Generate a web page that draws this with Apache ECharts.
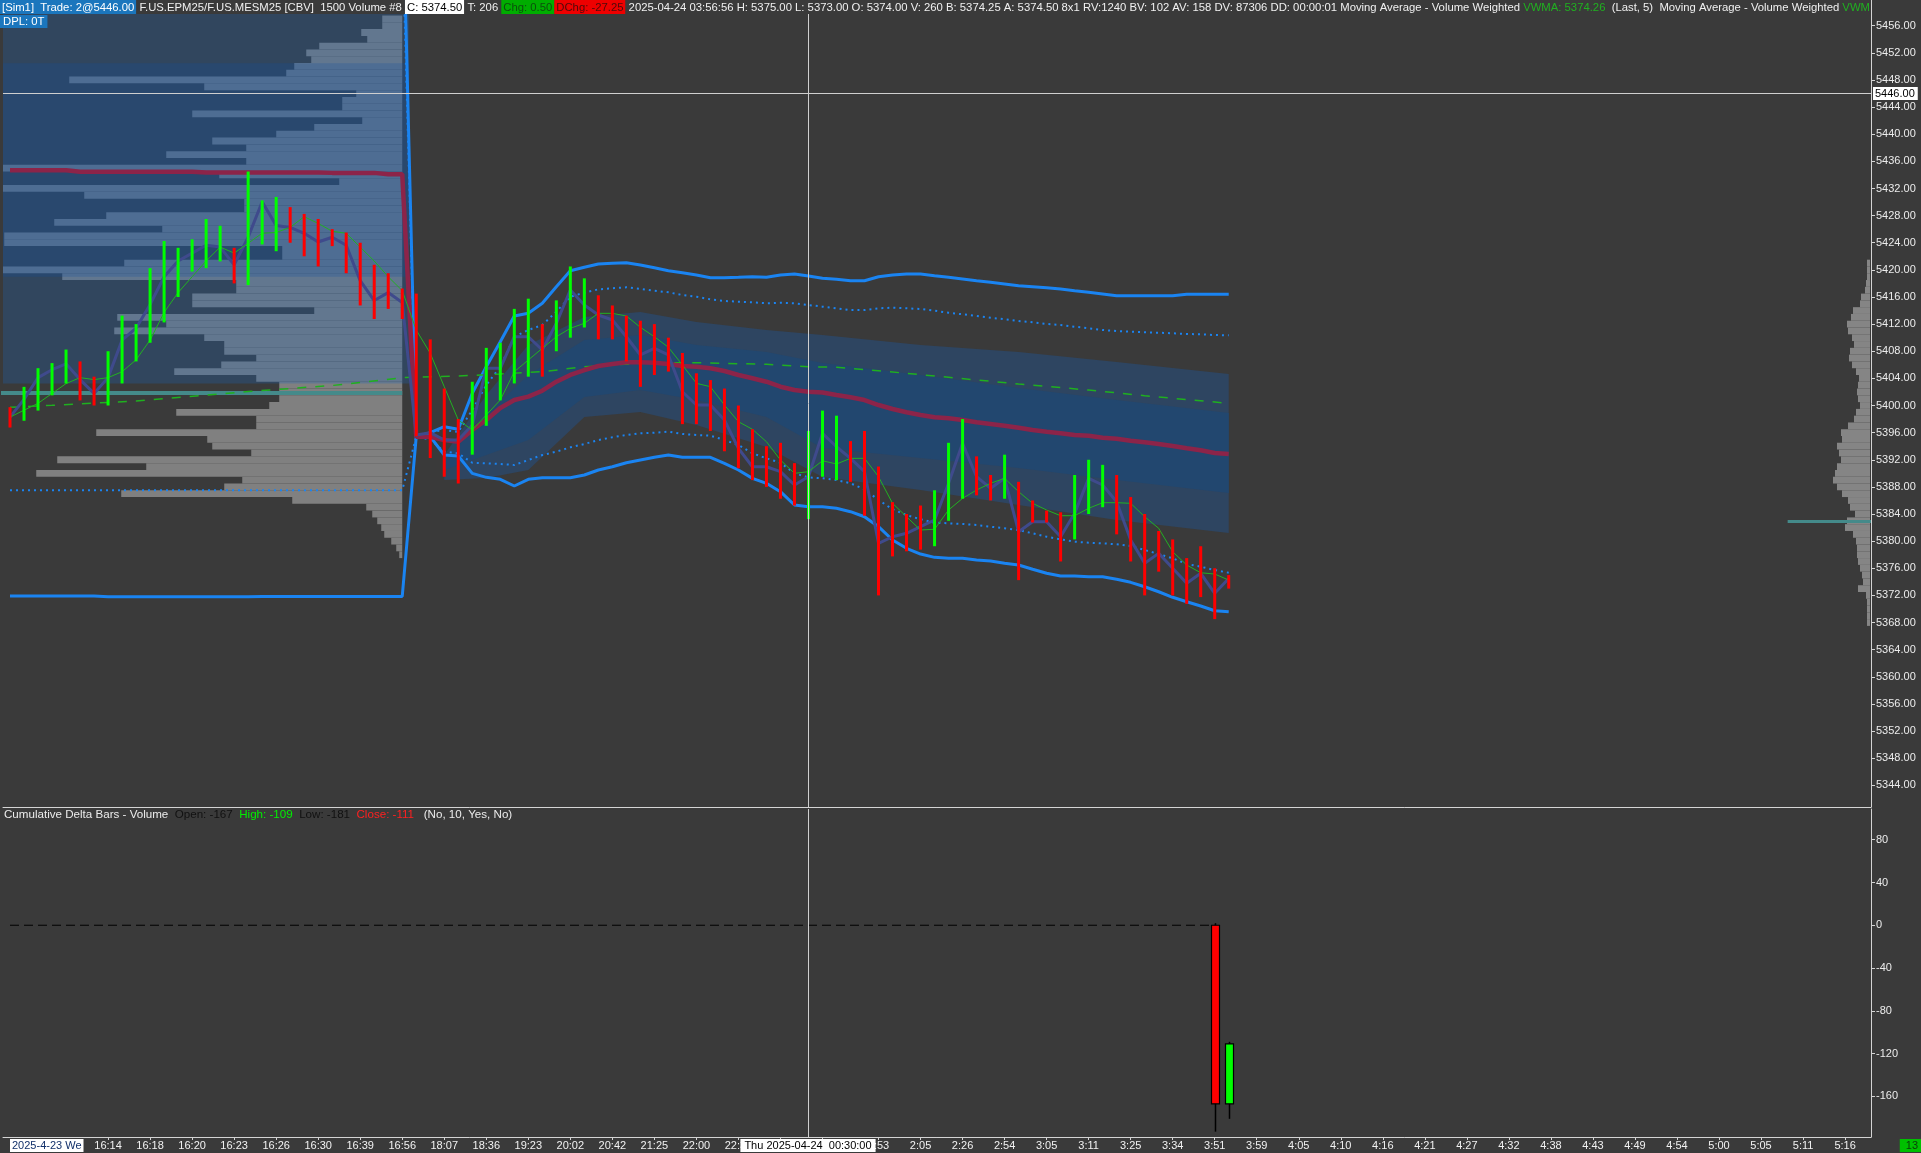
<!DOCTYPE html>
<html><head><meta charset="utf-8">
<script src="https://cdn.jsdelivr.net/npm/echarts@6/dist/echarts.min.js"></script>
<style>html,body{margin:0;padding:0;background:#3a3a3a;overflow:hidden}#c{width:1921px;height:1153px}</style>
</head><body><div id="c"></div>
<script>
// ---------------- DATA ----------------
const tickLabels = ['16:14','16:18','16:20','16:23','16:26','16:30','16:39','16:56','18:07','18:36','19:23','20:02','20:42','21:25','22:00','22:39','23:38','0:49','1:53','2:05','2:26','2:54','3:05','3:11','3:25','3:34','3:51','3:59','4:05','4:10','4:16','4:21','4:27','4:32','4:38','4:43','4:49','4:54','5:00','5:05','5:11','5:16'];
const tickBars = [7,10,13,16,19,22,25,28,31,34,37,40,43,46,49,52,55,58,62,65,68,71,74,77,80,83,86,89,92,95,98,101,104,107,110,113,116,119,122,125,128,131];
const priceTicks = [5344,5348,5352,5356,5360,5364,5368,5372,5376,5380,5384,5388,5392,5396,5400,5404,5408,5412,5416,5420,5424,5428,5432,5436,5440,5444,5448,5452,5456];
const deltaTicks = [-160,-120,-80,-40,0,40,80];

const highs = [5399.75,5402.75,5405.5,5406.25,5408.25,5406.5,5404.25,5408,5413.25,5412,5420.25,5424.25,5423.25,5424.5,5427.5,5426.5,5423.25,5434.5,5430.25,5430.75,5429.25,5428.25,5427.5,5426,5425.5,5424,5420.75,5419.5,5417.25,5416.5,5409.75,5402.5,5398,5403.5,5408.5,5409.25,5414.25,5415.75,5412,5415.5,5420.5,5418.75,5416.25,5414.75,5413.25,5412.5,5412,5410,5407.75,5404.75,5403.75,5402.5,5400,5396.5,5394,5394.5,5391.5,5396.25,5399.25,5398.5,5394.75,5396.25,5391,5385.75,5384,5385.25,5387.5,5394.5,5398,5392.5,5389.75,5392.75,5388.75,5386,5384.5,5384.25,5389.75,5392,5391.25,5389.75,5386.5,5384,5381.5,5380.25,5377.5,5379.25,5376,5375];
const lows = [5396.75,5397.75,5399.25,5401.5,5403.25,5400.75,5400,5400,5403.25,5406.5,5409.25,5412.25,5416,5419.75,5420.25,5421.25,5418,5417.75,5423.75,5422.75,5424,5422,5420.5,5423.5,5419.5,5414.75,5412.75,5414.25,5412.75,5395.5,5392.25,5389.5,5388.5,5392.75,5397,5400.75,5403.25,5404.25,5404.25,5408,5410,5411.5,5409.75,5409.75,5406.5,5402.75,5404.5,5405,5397.25,5397.25,5396.25,5393.25,5390.75,5389,5388,5386.25,5385.25,5383.25,5389.5,5389,5388.75,5383.75,5372,5377.75,5378.5,5378.75,5379.25,5383,5386.25,5386.75,5386,5386.25,5374.25,5382.75,5382.75,5377,5380.25,5384,5385,5381,5377,5372,5375.5,5372,5370.75,5371.75,5368.5,5373];
const closes = [5398.29,5400.90,5404.11,5405.28,5406.15,5403.82,5401.78,5404.11,5409.64,5411.40,5414.89,5418.98,5421.31,5422.47,5423.63,5423.36,5420.73,5424.81,5430.05,5426.55,5426.26,5425.39,5424.11,5424.81,5423.63,5418.40,5415.48,5416.65,5415.19,5395.65,5395.99,5394.91,5394.91,5397.12,5405.48,5405.48,5410.14,5410.14,5408.18,5412.12,5417.03,5414.82,5413.34,5412.61,5410.14,5407.45,5408.43,5407.45,5402.03,5400.07,5400.07,5397.86,5393.69,5390.97,5390.97,5390.24,5388.28,5389.50,5395.90,5393.92,5392.21,5390.24,5379.68,5380.65,5381.16,5382.13,5383.12,5388.53,5394.42,5389.50,5387.79,5389.26,5381.39,5382.87,5382.87,5380.65,5384.10,5389.26,5388.28,5385.81,5380.17,5376.73,5378.20,5375.99,5373.78,5375.26,5372.31,5374.50];
const barDir = 'd uuuu dd uuuuuuuuu d uuu ddddddddddddd uuuuu d uuu ddddddddddddddd uuu dddddd uuu dd u dddd uuu ddddddddd'.split(' ').join('').split('');

const sessionStart = 29;
const vwapPrev = [[0,5434.70],[4,5434.70],[5,5434.45],[13,5434.45],[14,5434.35],[22,5434.35],[23,5434.30],[26,5434.30],[27,5434.10],[28,5434.10]];
const vwapSession = [5395.40,5395.40,5394.91,5394.66,5396.39,5397.86,5399.63,5400.81,5401.30,5402.18,5403.51,5404.50,5405.23,5405.82,5406.12,5406.37,5406.37,5406.31,5406.12,5405.82,5405.72,5405.48,5405.09,5404.50,5404.01,5403.51,5402.77,5402.28,5402.03,5401.92,5401.55,5401.21,5400.81,5400.07,5399.48,5399.00,5398.60,5398.26,5398.11,5397.86,5397.52,5397.27,5397.02,5396.73,5396.39,5396.14,5395.90,5395.65,5395.55,5395.25,5395.10,5394.81,5394.57,5394.32,5394.03,5393.69,5393.39,5393.00,5392.85];
const upperPrev = [[28,5478.00]];
const upperSession = [5395.40,5395.99,5396.87,5396.49,5401.80,5405.72,5409.41,5413.20,5413.59,5415.07,5417.52,5419.88,5420.38,5420.86,5420.97,5421.05,5420.72,5420.32,5419.88,5419.58,5419.24,5418.84,5418.84,5418.90,5418.99,5418.90,5419.24,5419.39,5419.09,5418.75,5418.61,5418.40,5418.40,5418.99,5419.24,5419.39,5419.39,5419.14,5418.90,5418.65,5418.40,5418.16,5417.91,5417.66,5417.52,5417.37,5417.18,5416.93,5416.69,5416.44,5416.19,5416.19,5416.19,5416.19,5416.19,5416.40,5416.40,5416.40,5416.40];
const lowerPrev = [[0,5371.90],[6,5371.90],[7,5371.80],[17,5371.80],[18,5371.85],[28,5371.85]];
const lowerSession = [5395.40,5395.40,5392.70,5392.55,5390.00,5389.41,5389.12,5388.13,5389.12,5389.35,5389.35,5389.35,5389.75,5390.49,5390.97,5391.56,5391.96,5392.36,5392.70,5392.36,5392.36,5392.36,5391.48,5390.49,5389.26,5388.53,5387.29,5385.33,5385.08,5385.08,5384.84,5384.34,5383.60,5382.13,5380.17,5378.94,5378.10,5377.61,5377.47,5377.47,5377.22,5377.07,5376.73,5376.48,5375.85,5375.26,5374.86,5374.86,5374.76,5374.76,5374.37,5373.93,5373.28,5372.54,5371.72,5371.07,5370.43,5369.74,5369.59];
const upperDotPrev = [[28,5470.00]];
const upperDotSession = [5395.40,5396.09,5396.39,5396.09,5399.34,5403.02,5405.72,5410.14,5411.13,5411.87,5413.83,5416.04,5416.63,5417.13,5417.28,5417.43,5417.18,5416.93,5416.69,5416.29,5416.04,5415.66,5415.41,5415.31,5415.22,5415.07,5415.16,5415.07,5414.82,5414.57,5414.33,5414.08,5414.08,5414.33,5414.42,5414.33,5414.23,5413.98,5413.68,5413.45,5413.20,5412.95,5412.71,5412.46,5412.27,5412.02,5411.87,5411.62,5411.38,5411.13,5410.98,5410.88,5410.79,5410.73,5410.65,5410.54,5410.50,5410.39,5410.35];
const lowerDotPrev = [[0,5387.50],[28,5387.50]];
const lowerDotSession = [5395.40,5395.00,5393.19,5392.95,5391.56,5391.47,5391.37,5391.23,5391.96,5392.70,5393.19,5393.83,5394.32,5394.91,5395.31,5395.65,5395.90,5395.99,5396.14,5395.80,5395.65,5395.55,5394.91,5394.17,5392.95,5392.21,5391.56,5390.00,5389.41,5389.26,5389.01,5388.53,5387.64,5386.07,5384.70,5383.85,5383.22,5382.72,5382.63,5382.53,5382.38,5382.13,5381.89,5381.64,5381.16,5380.65,5380.27,5379.92,5379.77,5379.68,5379.53,5379.28,5378.69,5378.10,5377.47,5376.63,5376.23,5375.74,5375.34];
const maLong = [[0,5399.73],[3,5400.03],[9,5400.66],[17,5402.06],[23,5402.95],[28,5404.10],[32,5404.35],[35,5404.64],[38,5404.98],[41,5405.72],[45,5406.22],[47,5406.31],[49,5406.31],[54,5406.07],[57,5405.72],[59,5405.63],[62,5405.13],[67,5404.16],[72,5403.17],[77,5402.28],[81,5401.44],[87,5400.32]];
const vwma5 = [[0,5398.29],[2,5400.32],[4,5403.23],[5,5404.11],[6,5403.82],[7,5404.11],[8,5404.98],[9,5406.74],[10,5409.64],[11,5413.73],[12,5416.65],[13,5418.98],[14,5421.31],[15,5423.36],[16,5422.47],[17,5423.93],[18,5425.39],[19,5425.51],[20,5426.26],[21,5427.84],[22,5426.85],[23,5425.69],[24,5425.39],[25,5423.36],[26,5421.31],[27,5418.98],[28,5416.94],[29,5411.13],[30,5407.70],[31,5402.77],[32,5397.86],[33,5396.39],[34,5398.60],[35,5400.81],[36,5404.98],[37,5406.71],[38,5408.43],[39,5410.14],[40,5411.38],[41,5412.12],[42,5413.59],[43,5413.59],[44,5413.20],[45,5411.53],[46,5410.14],[47,5408.58],[48,5405.97],[49,5403.27],[50,5402.77],[51,5400.07],[52,5397.61],[53,5396.49],[54,5394.66],[55,5391.96],[56,5390.00],[57,5390.24],[58,5391.86],[59,5391.37],[60,5392.21],[61,5392.21],[62,5389.50],[63,5385.58],[64,5383.60],[65,5381.64],[66,5381.75],[67,5384.59],[68,5386.31],[69,5387.54],[70,5388.53],[71,5389.26],[72,5387.29],[73,5385.58],[74,5384.59],[75,5383.75],[76,5383.75],[77,5384.84],[78,5385.67],[79,5385.67],[80,5385.58],[81,5383.60],[82,5381.89],[83,5378.44],[84,5376.48],[85,5375.34],[86,5375.15],[87,5374.26]];

// std-dev shading (sampled bars)
const shadeBars = [31,34,37,41,45,49,54,58,65,72,79,87];
const shadeOuterTop = [5392.70,5401.55,5408.92,5413.05,5413.79,5412.31,5411.13,5410.40,5408.92,5407.89,5406.41,5404.64];
const shadeInnerTop = [5391.96,5398.60,5404.50,5409.66,5410.40,5408.92,5407.89,5406.27,5404.50,5402.58,5400.81,5398.89];
const shadeInnerBot = [5390.49,5392.70,5394.91,5401.25,5402.28,5400.81,5398.30,5393.73,5392.26,5390.78,5389.01,5387.10];
const shadeOuterBot = [5389.01,5389.31,5390.49,5398.30,5399.04,5397.12,5393.88,5389.46,5387.54,5385.33,5383.12,5381.20];

// previous-session volume profile (price row, volume)
const leftProfile = [[5457,20],[5456,20],[5455,41],[5454,35],[5453,83],[5452,96],[5451,91],[5450,108],[5449,116],[5448,333],[5447,198],[5446,46],[5445,60],[5444,60],[5443,210],[5442,40],[5441,88],[5440,126],[5439,190],[5438,156],[5437,236],[5436,156],[5435,400],[5434,183],[5433,63],[5432,400],[5431,318],[5430,158],[5429,158],[5428,296],[5427,348],[5426,240],[5425,398],[5424,398],[5423,120],[5422,120],[5421,278],[5420,400],[5419,340],[5418,166],[5417,166],[5416,210],[5415,210],[5414,88],[5413,285],[5412,236],[5411,288],[5410,198],[5409,178],[5408,178],[5407,146],[5406,181],[5405,228],[5404,146],[5403,123],[5402,123],[5401,123],[5400,133],[5399,226],[5398,146],[5397,146],[5396,306],[5395,195],[5394,190],[5393,151],[5392,345],[5391,256],[5390,366],[5389,160],[5388,178],[5387,281],[5386,110],[5385,36],[5384,30],[5383,25],[5382,21],[5381,18],[5380,11],[5379,6],[5378,3]];
const leftValueArea = [5460.00, 5403.25];
const leftCoreArea = [5450.46, 5418.97];
const leftPOC = 5401.85;
const leftProfileEndBar = 28;

// current-session profile (price row, volume)
const rightProfile = [[5421,3],[5420,3],[5419,3],[5418,4],[5417,5],[5416,9],[5415,10],[5414,17],[5413,19],[5412,23],[5411,22],[5410,18],[5409,16],[5408,20],[5407,21],[5406,18],[5405,14],[5404,11],[5403,12],[5402,13],[5401,12],[5400,10],[5399,14],[5398,16],[5397,22],[5396,29],[5395,28],[5394,33],[5393,31],[5392,29],[5391,33],[5390,35],[5389,37],[5388,33],[5387,28],[5386,22],[5385,20],[5384,15],[5383,23],[5382,25],[5381,17],[5380,14],[5379,13],[5378,13],[5377,12],[5376,10],[5375,8],[5374,7],[5373,12],[5372,4],[5371,3],[5370,3],[5369,3],[5368,3]];
const rightPOC = 5382.9;
const rightPOCStartBar = 126.9;

// cumulative delta bars: [bar, open, close, low, high]
const deltaBars = [[86,0,-167,-193,2],[87,-167,-111,-181,-109]];
const deltaZeroFrom = 0;

const crossPrice = 5446.00, crossBar = 57, lastPrice = 5374.50;

// ---------------- CHART ----------------
const FONT = "'Liberation Sans', Arial, sans-serif";
const F11 = "11px 'Liberation Sans', Arial, sans-serif";
const FH = "11.3px 'Liberation Sans', Arial, sans-serif";
const FL = "11.6px 'Liberation Sans', Arial, sans-serif";
const BG = '#3a3a3a';
const AXC = '#d4d4d4';
const chart = echarts.init(document.getElementById('c'), null, {width:1921, height:1153});

const withStart = (arr) => arr.map((v,k) => [sessionStart + k, v]);
const lineS = (data, color, width, type, extra) => Object.assign({
  type:'line', xAxisIndex:0, yAxisIndex:0, data, symbol:'none', silent:true, animation:false,
  lineStyle:{color, width, type: type || 'solid'}, z:3
}, extra || {});

const tickLabelOf = (v) => { const k = tickBars.indexOf(Math.round(v)); return k >= 0 ? tickLabels[k] : ''; };

const option = {
  backgroundColor: BG,
  animation: false,
  textStyle: {fontFamily: FONT},
  grid: [
    {left:3, top:0, width:1868, height:807},
    {left:3, top:809, width:1868, height:328}
  ],
  xAxis: [
    {type:'value', gridIndex:0, min:-0.5, max:132.85, axisLine:{show:true, onZero:false, lineStyle:{color:AXC, width:1}}, axisTick:{show:false}, axisLabel:{show:false}, splitLine:{show:false}},
    {type:'value', gridIndex:1, min:-0.5, max:132.85, axisLine:{show:true, onZero:false, lineStyle:{color:AXC, width:1}},
      axisTick:{show:true, customValues: tickBars, length:3, lineStyle:{color:AXC}},
      axisLabel:{show:true, customValues: tickBars, formatter: tickLabelOf, color:'#f2f2f2', fontSize:11, fontFamily:FONT, margin:3},
      splitLine:{show:false}}
  ],
  yAxis: [
    {type:'value', gridIndex:0, position:'right', min:5340.80, max:5459.79,
      axisLine:{show:true, onZero:false, lineStyle:{color:AXC}},
      axisTick:{show:true, customValues: priceTicks, length:4, lineStyle:{color:AXC}},
      axisLabel:{customValues: priceTicks, formatter: v => v.toFixed(2), color:'#ececec', fontSize:11, fontFamily:FONT, margin:5},
      splitLine:{show:false}},
    {type:'value', gridIndex:1, position:'right', min:-198.0, max:108.7,
      axisLine:{show:true, onZero:false, lineStyle:{color:AXC}},
      axisTick:{show:true, customValues: deltaTicks, length:4, lineStyle:{color:AXC}},
      axisLabel:{customValues: deltaTicks, formatter: v => String(v), color:'#ececec', fontSize:11, fontFamily:FONT, margin:5},
      splitLine:{show:false}}
  ],
  series: [
    // previous-session profile (anchored at its last bar, growing leftwards)
    {type:'custom', xAxisIndex:0, yAxisIndex:0, silent:true, clip:true, z:1,
      data: leftProfile,
      encode:{y:0},
      renderItem(params, api){
        const p = api.value(0), vol = api.value(1);
        const xr = api.coord([leftProfileEndBar, p])[0];
        const y1 = api.coord([0, p + 0.5])[1], y2 = api.coord([0, p - 0.5])[1];
        const w = vol * 1.0;
        return {type:'rect', shape:{x: xr - w, y: y1, width: w, height: y2 - y1}, style:{fill:'#808080'}};
      }},
    // value area overlays
    {type:'custom', xAxisIndex:0, yAxisIndex:0, silent:true, clip:true, z:1,
      data: [[leftValueArea[0], leftValueArea[1], 0], [leftCoreArea[0], leftCoreArea[1], 1]],
      renderItem(params, api){
        const hi = api.value(0), lo = api.value(1), kind = api.value(2);
        const a = api.coord([-0.7, hi]), b = api.coord([leftProfileEndBar + 0.5, lo]);
        return {type:'rect', shape:{x:a[0], y:a[1], width:b[0]-a[0], height:b[1]-a[1]},
          style:{fill: kind === 0 ? 'rgba(30,100,180,0.30)' : 'rgba(20,80,160,0.25)'}};
      }},
    lineS([[-0.7, leftPOC],[leftProfileEndBar, leftPOC]], '#448a8a', 4, 'solid', {z:2}),
    // current-session profile on the right edge
    {type:'custom', xAxisIndex:0, yAxisIndex:0, silent:true, clip:true, z:1,
      data: rightProfile,
      encode:{y:0},
      renderItem(params, api){
        const p = api.value(0), vol = api.value(1);
        const xr = params.coordSys.x + params.coordSys.width - 1;
        const y1 = api.coord([0, p + 0.5])[1], y2 = api.coord([0, p - 0.5])[1];
        const w = vol * 1.0;
        return {type:'rect', shape:{x: xr - w, y: y1, width: w, height: y2 - y1}, style:{fill:'#858585'}};
      }},
    lineS([[rightPOCStartBar, rightPOC],[132.85, rightPOC]], '#448a8a', 3, 'solid', {z:2}),
    // std-dev shading
    {type:'custom', xAxisIndex:0, yAxisIndex:0, silent:true, clip:true, z:1,
      data: [[shadeBars[0], shadeOuterTop[0]]],
      renderItem(params, api){
        const poly = (top, bot) => shadeBars.map((b,k) => api.coord([b, top[k]]))
          .concat(shadeBars.map((b,k) => api.coord([b, bot[k]])).reverse());
        return {type:'group', children:[
          {type:'polygon', shape:{points: poly(shadeOuterTop, shadeOuterBot)}, style:{fill:'#2e4561'}},
          {type:'polygon', shape:{points: poly(shadeInnerTop, shadeInnerBot)}, style:{fill:'#22476f'}}
        ]};
      }},
    // bands
    lineS(upperPrev.concat(withStart(upperSession)), '#1a84f2', 3),
    lineS(lowerPrev.concat(withStart(lowerSession)), '#1a84f2', 3),
    lineS(upperDotPrev.concat(withStart(upperDotSession)), '#1a84f2', 2, [2,4]),
    lineS(lowerDotPrev.concat(withStart(lowerDotSession)), '#1a84f2', 2, [2,4]),
    lineS(maLong, '#1fb01f', 1.5, [9,9]),
    lineS(vwapPrev.concat(withStart(vwapSession)), '#8c2449', 4.5, 'solid', {
      markLine:{silent:true, symbol:['none','none'], animation:false,
        data:[
          {yAxis: crossPrice, lineStyle:{color:'#cfcfcf', width:1, type:'solid'},
            label:{show:true, position:'end', distance:2, formatter: crossPrice.toFixed(2), backgroundColor:'#ffffff', color:'#000', padding:[1,3,1,2], fontSize:11, fontFamily:FONT}},
          {yAxis: lastPrice, lineStyle:{opacity:0},
            label:{show:true, position:'end', distance:2, formatter: lastPrice.toFixed(2), backgroundColor:'#000000', color:'#fff', padding:[1,3,1,2], fontSize:11, fontFamily:FONT}},
          {xAxis: crossBar, lineStyle:{color:'#cfcfcf', width:1, type:'solid'}, label:{show:false}}
        ]}
    }),
    lineS(closes.map((c,i) => [i, c]), '#3f4a8c', 3),
    lineS(vwma5, '#22b022', 1),
    // price bars (high-low)
    {type:'custom', xAxisIndex:0, yAxisIndex:0, silent:true, clip:true, z:4,
      data: highs.map((h,i) => [i, h, lows[i]]),
      encode:{x:0, y:[1,2]},
      renderItem(params, api){
        const i = api.value(0);
        const t = api.coord([i, api.value(1)]), b = api.coord([i, api.value(2)]);
        return {type:'rect', shape:{x: t[0]-1.5, y: t[1], width:3, height: b[1]-t[1]},
          style:{fill: barDir[i] === 'u' ? '#00ff00' : '#ff0000'}};
      }},
    // lower pane
    {type:'line', xAxisIndex:1, yAxisIndex:1, silent:true, symbol:'none',
      data:[[deltaZeroFrom,0],[deltaBars[0][0],0]], lineStyle:{color:'#000', width:1, type:[9,5]},
      markLine:{silent:true, symbol:['none','none'], animation:false,
        data:[{xAxis: crossBar, lineStyle:{color:'#cfcfcf', width:1, type:'solid'}, label:{show:false}}]}},
    {type:'custom', xAxisIndex:1, yAxisIndex:1, silent:true, clip:true, z:4,
      data: deltaBars,
      encode:{x:0, y:[1,2,3,4]},
      renderItem(params, api){
        const i = api.value(0), o = api.value(1), c = api.value(2), l = api.value(3), h = api.value(4);
        const pO = api.coord([i,o]), pC = api.coord([i,c]), pL = api.coord([i,l]), pH = api.coord([i,h]);
        const x = Math.round(pO[0]) + 0.5, w = 8;
        const top = Math.min(pO[1], pC[1]), bot = Math.max(pO[1], pC[1]);
        return {type:'group', children:[
          {type:'line', shape:{x1:x, y1:pH[1], x2:x, y2:pL[1]}, style:{stroke:'#000', lineWidth:1.5}},
          {type:'rect', shape:{x:x - w/2, y:top, width:w, height:bot-top}, style:{fill: c >= o ? '#00ff00' : '#ff0000', stroke:'#000', lineWidth:1.2}}
        ]};
      }}
  ],
  graphic: [
    {type:'text', z:100, silent:true, style:{x:0, y:0, font:FH,
      text:'{s|[Sim1]  Trade: 2@5446.00}{n| F.US.EPM25/F.US.MESM25 [CBV]  1500 Volume #8 }{w|C: 5374.50}{n| T: 206 }{g|Chg: 0.50}{r|DChg: -27.25}{n| 2025-04-24 03:56:56 H: 5375.00 L: 5373.00 O: 5374.00 V: 260 B: 5374.25 A: 5374.50 8x1 RV:1240 BV: 102 AV: 158 DV: 87306 DD: 00:00:01 Moving Average - Volume Weighted }{v|VWMA: 5374.26}{n|  (Last, 5)  Moving Average - Volume Weighted }{v|VWM}',
      rich:{
        s:{font:FH, fill:'#ffffff', backgroundColor:'#1b76bd', padding:[2,2,1,2], lineHeight:14},
        n:{font:FH, fill:'#f0f0f0', backgroundColor:BG, padding:[2,0,1,0], lineHeight:14},
        w:{font:FH, fill:'#000000', backgroundColor:'#ffffff', padding:[2,2,1,2], lineHeight:14},
        g:{font:FH, fill:'#0c4f0c', backgroundColor:'#00ad00', padding:[2,2,1,2], lineHeight:14},
        r:{font:FH, fill:'#4d0a0a', backgroundColor:'#ee0000', padding:[2,2,1,2], lineHeight:14},
        v:{font:FH, fill:'#20b020', backgroundColor:BG, padding:[2,0,1,0], lineHeight:14}
      }}},
    {type:'text', z:100, silent:true, style:{x:0, y:15, font:FH, text:'DPL: 0T', fill:'#ffffff', backgroundColor:'#1b76bd', padding:[1,3,1,3]}},
    {type:'text', z:100, silent:true, style:{x:4, y:809, font:FL,
      text:'{w|Cumulative Delta Bars - Volume}  {k|Open: -167}  {g|High: -109}  {k|Low: -181}  {r|Close: -111}   {w|(No, 10, Yes, No)}',
      fill:'#e8e8e8',
      rich:{
        w:{font:FL, fill:'#ececec'},
        k:{font:FL, fill:'#111111'},
        g:{font:FL, fill:'#00f000'},
        r:{font:FL, fill:'#ff2020'}
      }}},
    {type:'text', z:100, silent:true, style:{x:10, y:1139, font:F11, text:'2025-4-23 We', fill:'#12306a', backgroundColor:'#ffffff', padding:[1,2,1,2]}},
    {type:'text', z:100, silent:true, style:{x:808, y:1139, align:'center', font:F11, text:'Thu 2025-04-24  00:30:00', fill:'#000000', backgroundColor:'#ffffff', padding:[1,4,1,4]}},
    {type:'text', z:100, silent:true, style:{x:1921, y:1139, align:'right', font:F11, text:'13', fill:'#0a3a0a', backgroundColor:'#00c000', padding:[1,3,1,6]}}
  ]
};
chart.setOption(option);
</script>
</body></html>
